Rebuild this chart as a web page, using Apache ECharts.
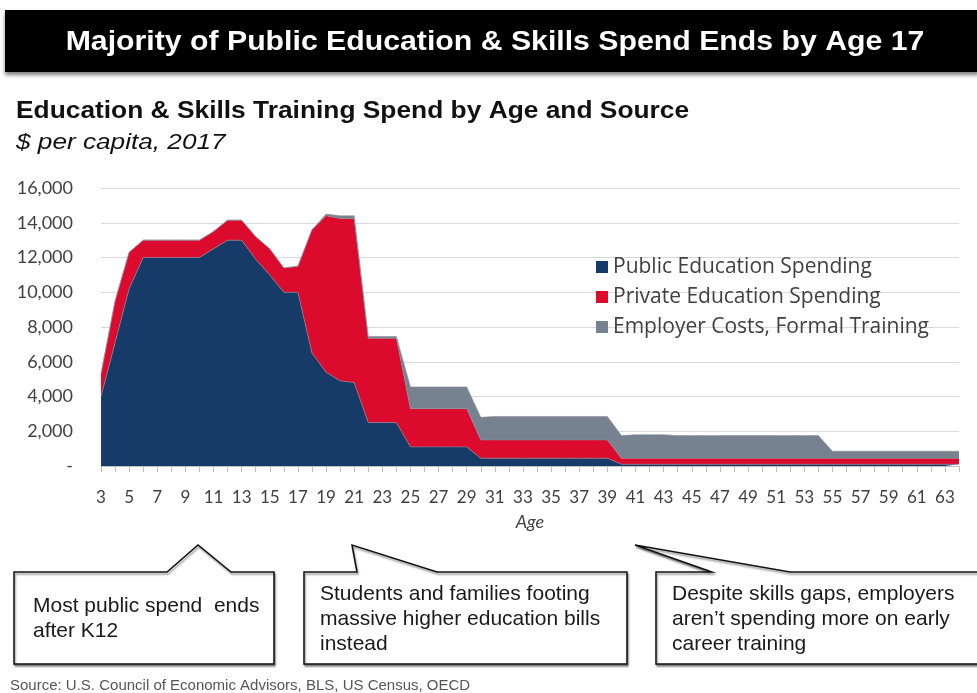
<!DOCTYPE html>
<html><head><meta charset="utf-8">
<script src="https://cdn.jsdelivr.net/npm/echarts@6/dist/echarts.min.js"></script>
<style>html,body{margin:0;padding:0;background:#fff}#c{width:977px;height:693px}</style>
</head><body><div id="c"></div>
<script>
// Ages 3..64
const ages = [];
for (let a = 3; a <= 64; a++) ages.push(String(a));

// Public education spending ($ per capita)
const publicSpend = [
  4000, 7100, 10200, 12000, 12000, 12000, 12000, 12000, 12500, 13000, 13000, 11900, 11000, 10000, 10000,
  6500, 5400, 4900, 4800, 2500, 2500, 2500, 1100, 1100, 1100, 1100, 1100,
  450, 450, 450, 450, 450, 450, 450, 450, 450, 450,
  100, 100, 100, 100, 100, 100, 100, 100, 100, 100, 100, 100, 100, 100, 100,
  100, 100, 100, 100, 100, 100, 100, 100, 100, 100
];
// Private education spending
const privateSpend = [
  1300, 2400, 2100, 1000, 1000, 1000, 1000, 1000, 1000, 1150, 1150, 1300, 1500, 1400, 1500,
  7100, 9000, 9350, 9450, 4850, 4850, 4850, 2200, 2200, 2200, 2200, 2200,
  1050, 1050, 1050, 1050, 1050, 1050, 1050, 1050, 1050, 1050,
  350, 350, 350, 350, 350, 350, 350, 350, 350, 350, 350, 350, 350, 350, 350,
  350, 350, 350, 350, 350, 350, 350, 350, 350, 350
];
// Employer costs, formal training
const employerSpend = [
  0, 0, 0, 0, 0, 0, 0, 0, 0, 0, 0, 0, 0, 0, 0,
  0, 100, 150, 150, 100, 100, 100, 1250, 1250, 1250, 1250, 1250,
  1300, 1350, 1350, 1350, 1350, 1350, 1350, 1350, 1350, 1350,
  1300, 1350, 1350, 1350, 1300, 1300, 1300, 1300, 1300, 1300, 1300, 1300, 1300, 1300, 1300,
  400, 400, 400, 400, 400, 400, 400, 400, 400, 400
];
const seriesNames = ['Public Education Spending', 'Private Education Spending', 'Employer Costs, Formal Training'];
const seriesColors = ['#173b69', '#dc0a2d', '#768290'];

const chart = echarts.init(document.getElementById('c'));
const axisFont = 'Lato, "Noto Sans", sans-serif';
const arial = '"Liberation Sans", Arial, sans-serif';
function mkSeries(i, data) {
  return {
    name: seriesNames[i], type: 'line', stack: 'total', data: data,
    showSymbol: false, symbol: 'none',
    lineStyle: { width: 0.6, color: '#8a8f99' },
    areaStyle: { color: seriesColors[i], opacity: 1 },
    itemStyle: { color: seriesColors[i] },
    emphasis: { disabled: true }
  };
}
function callout(pts) {
  return {
    type: 'polygon', shape: { points: pts },
    style: { fill: '#fff', stroke: '#111', lineWidth: 1.5, shadowColor: 'rgba(0,0,0,0.45)', shadowOffsetX: 1, shadowOffsetY: 2, shadowBlur: 2 }
  };
}
function txt(x, y, t, font, extra, scaleX) {
  return { type: 'text', x: x, y: y, scaleX: scaleX || 1, style: Object.assign({ text: t, fill: '#1a1a1a', font: font, textVerticalAlign: 'middle' }, extra || {}) };
}
chart.setOption({
  animation: false,
  grid: { left: 101, right: 18, top: 188, bottom: 227, containLabel: false },
  legend: {
    orient: 'vertical', left: 591, top: 251, itemWidth: 12, itemHeight: 12, itemGap: 8,
    icon: 'rect', data: seriesNames,
    textStyle: { fontSize: 21, color: '#404040', fontFamily: '"Open Sans", Lato, sans-serif', lineHeight: 22 }
  },
  xAxis: {
    type: 'category', data: ages, boundaryGap: false,
    name: 'Age', nameLocation: 'middle', nameGap: 47,
    nameTextStyle: { fontSize: 18, fontStyle: 'italic', color: '#404040', fontFamily: axisFont },
    axisLine: { lineStyle: { color: '#bfbfbf', width: 1 } },
    axisTick: { show: true, interval: 0, length: 6, lineStyle: { color: '#bfbfbf' } },
    axisLabel: { interval: 1, fontSize: 17, color: '#404040', fontFamily: axisFont, margin: 23 },
    splitLine: { show: false }
  },
  yAxis: {
    type: 'value', min: 0, max: 16000, interval: 2000,
    axisLine: { show: false }, axisTick: { show: false },
    axisLabel: {
      fontSize: 18, color: '#404040', fontFamily: axisFont, margin: 28,
      formatter: v => v === 0 ? '-' : v.toLocaleString('en-US')
    },
    splitLine: { lineStyle: { color: '#d9d9d9', width: 1 } }
  },
  series: [mkSeries(0, publicSpend), mkSeries(1, privateSpend), mkSeries(2, employerSpend)],
  graphic: [
    { type: 'rect', shape: { x: 5, y: 10, width: 975, height: 62 }, style: { fill: '#000', shadowColor: 'rgba(0,0,0,0.5)', shadowOffsetY: 3, shadowBlur: 4 } },
    txt(495, 42, 'Majority of Public Education & Skills Spend Ends by Age 17', 'bold 28px ' + arial, { fill: '#fff', textAlign: 'center' }, 1.08),
    txt(16, 112, 'Education & Skills Training Spend by Age and Source', 'bold 23px ' + arial, { fill: '#111' }, 1.145),
    txt(16, 143, '$ per capita, 2017', 'italic 22px ' + arial, { fill: '#111' }, 1.19),
    callout([[14, 572], [167, 572], [198, 545], [231, 572], [274, 572], [274, 664], [14, 664]]),
    callout([[304, 572], [357, 572], [352, 545], [437, 572], [627, 572], [627, 664], [304, 664]]),
    callout([[656, 572], [712, 572], [635, 545], [790, 572], [990, 572], [990, 664], [656, 664]]),
    txt(33, 606, 'Most public spend  ends', '21px ' + arial),
    txt(33, 631, 'after K12', '21px ' + arial),
    txt(320, 594, 'Students and families footing', '21px ' + arial),
    txt(320, 619, 'massive higher education bills', '21px ' + arial),
    txt(320, 644, 'instead', '21px ' + arial),
    txt(672, 594, 'Despite skills gaps, employers', '21px ' + arial),
    txt(672, 619, 'aren\u2019t spending more on early', '21px ' + arial),
    txt(672, 644, 'career training', '21px ' + arial),
    txt(10, 686, 'Source: U.S. Council of Economic Advisors, BLS, US Census, OECD', '15px ' + arial, { fill: '#555' })
  ]
});
</script></body></html>
